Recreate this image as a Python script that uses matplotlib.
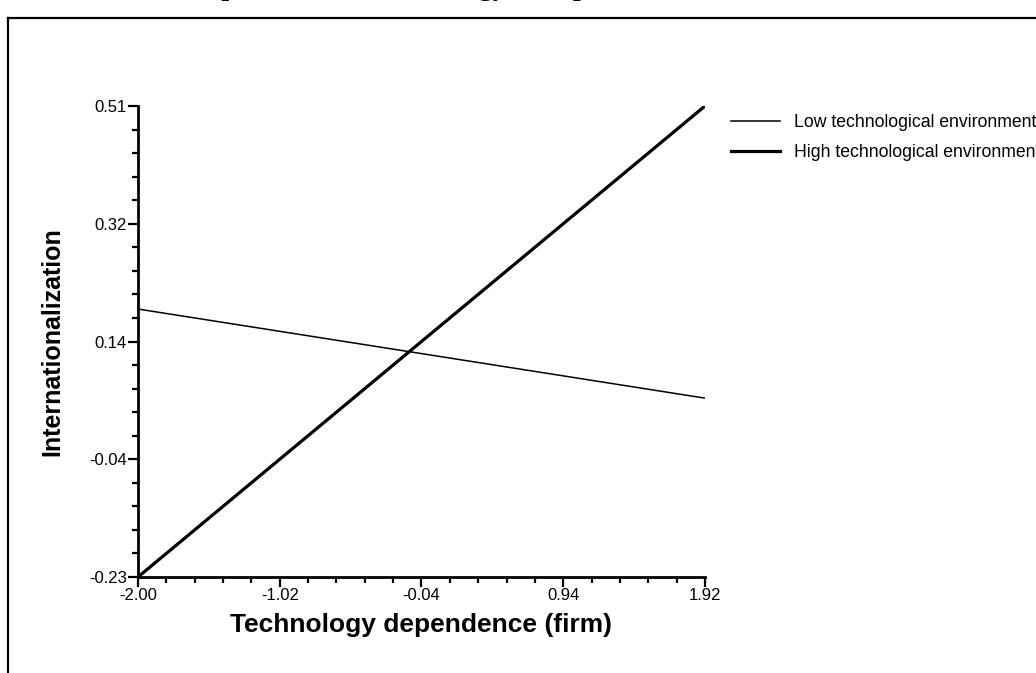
import matplotlib
matplotlib.use('Agg')
from matplotlib import pyplot as plt
from matplotlib.lines import Line2D
from matplotlib.ticker import AutoMinorLocator
import numpy as np

plt.rcParams['font.family'] = ['Liberation Sans', 'DejaVu Sans']

# simple slopes: technology dependence (firm) -> internationalization
x_ends = [-2.00, 1.92]
low_env = [0.191, 0.051]
high_env = [-0.23, 0.51]

xticks = [-2.00, -1.02, -0.04, 0.94, 1.92]
xtick_labels = ['-2.00', '-1.02', '-0.04', '0.94', '1.92']
yticks = [-0.23, -0.045, 0.14, 0.325, 0.51]
ytick_labels = ['-0.23', '-0.04', '0.14', '0.32', '0.51']

fig = plt.figure(figsize=(10.36, 6.73), dpi=100)
ax = fig.add_axes([138/1036, 1-577/673, (705-138)/1036, (577-106)/673])

ax.plot(x_ends, low_env, color='black', lw=1.1, label='Low technological environment')
ax.plot(x_ends, high_env, color='black', lw=2.3, label='High technological environment')

ax.set_xlim(-2.00, 1.92)
ax.set_ylim(-0.23, 0.51)
ax.set_xticks(xticks)
ax.set_xticklabels(xtick_labels)
ax.set_yticks(yticks)
ax.set_yticklabels(ytick_labels)
ax.xaxis.set_minor_locator(AutoMinorLocator(5))
ax.yaxis.set_minor_locator(AutoMinorLocator(5))

for s in ['top', 'right']:
    ax.spines[s].set_visible(False)
for s in ['left', 'bottom']:
    ax.spines[s].set_linewidth(2)
ax.tick_params(which='major', length=7, width=1.6, labelsize=12, pad=1)
ax.tick_params(which='minor', length=4, width=1.6)

ax.set_xlabel('Technology dependence (firm)', fontsize=19, fontweight='bold', labelpad=7)
ax.set_ylabel('Internationalization', fontsize=18, fontweight='bold', labelpad=18)

leg = ax.legend(loc='upper left', bbox_to_anchor=(731/1036, 1-114/673),
                bbox_transform=fig.transFigure, frameon=False, borderpad=0,
                borderaxespad=0, fontsize=12.7, handlelength=2.75,
                handletextpad=0.82, labelspacing=0.72)

# frame and cut-off title at the top
fig.add_artist(Line2D([8/1036, 1], [1-18/673, 1-18/673], color='black', lw=1.6))
fig.add_artist(Line2D([8/1036, 8/1036], [0, 1-18/673], color='black', lw=1.6))
fig.text(82/1036, 1-1/673, 'Interaction plot between technology/ and performance',
         ha='left', va='bottom', fontsize=20, fontweight='bold',
         family=['Liberation Serif', 'DejaVu Serif'])

fig.savefig('out.png', dpi=100)
